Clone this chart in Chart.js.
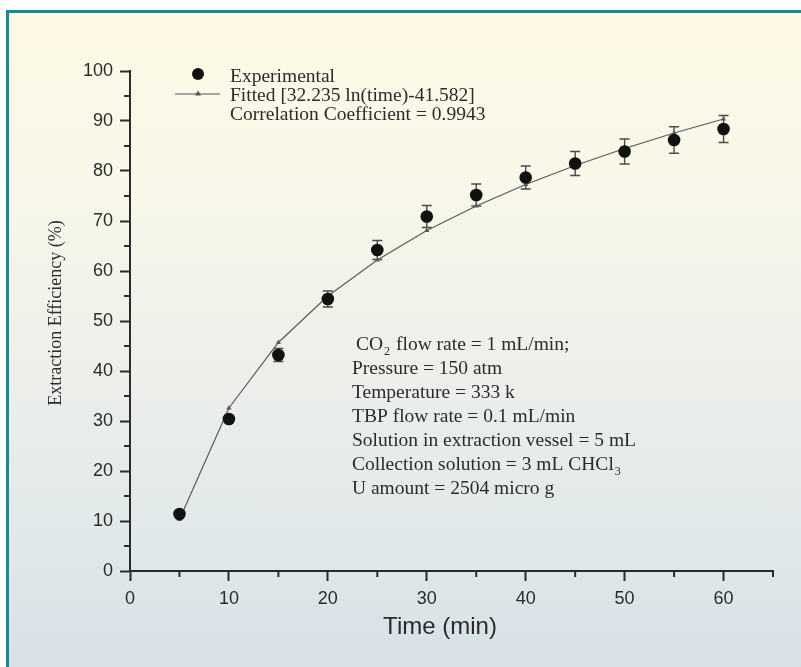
<!DOCTYPE html>
<html>
<head>
<meta charset="utf-8">
<script src="https://cdn.jsdelivr.net/npm/chart.js@4.4.0/dist/chart.umd.min.js"></script>
<style>
  html, body { margin: 0; padding: 0; background: #ffffff; }
  #wrap { position: relative; width: 801px; height: 667px; overflow: hidden; background: #ffffff; }
  #panel { position: absolute; left: 6px; top: 10px; width: 820px; height: 680px;
    border-top: 3px solid #138a9a; border-left: 3px solid #138a9a;
    background: linear-gradient(to bottom, #fdf9e4 0%, #f8f7e9 25%, #eef0ea 50%, #e2e9ea 75%, #d5dfe5 100%); }
  #c { position: absolute; left: 0; top: 0; }
</style>
</head>
<body>
<div id="wrap">
  <div id="panel"></div>
  <canvas id="c" width="801" height="667"></canvas>
</div>
<script>
// ---- data ----
const times = [5, 10, 15, 20, 25, 30, 35, 40, 45, 50, 55, 60];
const experimental = [11.4, 30.4, 43.2, 54.4, 64.2, 70.9, 75.2, 78.7, 81.5, 83.9, 86.2, 88.4];
const experimentalError = [0.5, 0.6, 1.3, 1.6, 1.9, 2.2, 2.2, 2.3, 2.4, 2.5, 2.65, 2.7];
const fitted = [10.3, 32.6, 45.7, 55.0, 62.2, 68.1, 73.0, 77.3, 81.1, 84.5, 87.6, 90.4];
const xTickLabels = ['0', '10', '20', '30', '40', '50', '60'];
const yTickLabels = ['0', '10', '20', '30', '40', '50', '60', '70', '80', '90', '100'];
const legendLabels = ['Experimental', 'Fitted [32.235 ln(time)-41.582]', 'Correlation Coefficient = 0.9943'];
const conditionLines = [
  ['CO', '2', ' flow rate = 1 mL/min;'],
  ['Pressure = 150 atm'],
  ['Temperature = 333 k'],
  ['TBP flow rate = 0.1 mL/min'],
  ['Solution in extraction vessel = 5 mL'],
  ['Collection solution = 3 mL CHCl', '3', ''],
  ['U amount = 2504 micro g']
];
const xTitle = 'Time (min)';
const yTitle = 'Extraction Efficiency (%)';

const SERIF = "'Liberation Serif', 'Times New Roman', serif";
const SANS = "'Liberation Sans', Arial, sans-serif";
const TEXT = '#2b2b2b';

const extras = {
  id: 'extras',
  beforeDatasetsDraw(chart) {
    const ctx = chart.ctx, xs = chart.scales.x, ys = chart.scales.y;
    ctx.save();
    ctx.strokeStyle = '#4a4a4a';
    ctx.lineWidth = 1.4;
    times.forEach((t, i) => {
      const px = xs.getPixelForValue(t);
      const top = ys.getPixelForValue(experimental[i] + experimentalError[i]);
      const bot = ys.getPixelForValue(experimental[i] - experimentalError[i]);
      ctx.beginPath();
      ctx.moveTo(px, top); ctx.lineTo(px, bot);
      ctx.moveTo(px - 5, top); ctx.lineTo(px + 5, top);
      ctx.moveTo(px - 5, bot); ctx.lineTo(px + 5, bot);
      ctx.stroke();
    });
    ctx.restore();
  },
  afterDraw(chart) {
    const ctx = chart.ctx, xs = chart.scales.x, ys = chart.scales.y;
    const area = chart.chartArea;
    ctx.save();
    // minor ticks
    ctx.strokeStyle = '#2b2b2b';
    ctx.lineWidth = 2;
    ctx.beginPath();
    xs.ticks.forEach(tk => {
      if (tk.value % 10 !== 0) {
        const px = xs.getPixelForValue(tk.value);
        ctx.moveTo(px, area.bottom); ctx.lineTo(px, area.bottom + 6);
      }
    });
    ys.ticks.forEach(tk => {
      if (tk.value % 10 !== 0) {
        const py = ys.getPixelForValue(tk.value);
        ctx.moveTo(area.left, py); ctx.lineTo(area.left - 6, py);
      }
    });
    ctx.stroke();

    // axis titles
    ctx.fillStyle = TEXT;
    ctx.font = '24px ' + SANS;
    ctx.textAlign = 'center';
    ctx.textBaseline = 'alphabetic';
    ctx.fillText(xTitle, 440, 634);
    ctx.save();
    ctx.translate(61, 313);
    ctx.rotate(-Math.PI / 2);
    ctx.font = '18px ' + SERIF;
    ctx.fillText(yTitle, 0, 0);
    ctx.restore();

    // legend
    ctx.textAlign = 'left';
    ctx.font = '19.5px ' + SERIF;
    ctx.fillStyle = '#111';
    ctx.beginPath();
    ctx.arc(198, 74, 6, 0, Math.PI * 2);
    ctx.fill();
    ctx.strokeStyle = '#555';
    ctx.lineWidth = 1;
    ctx.beginPath();
    ctx.moveTo(175, 94); ctx.lineTo(220, 94);
    ctx.stroke();
    ctx.fillStyle = '#555';
    ctx.beginPath();
    ctx.moveTo(198, 90.5); ctx.lineTo(201, 95.5); ctx.lineTo(195, 95.5); ctx.closePath();
    ctx.fill();
    ctx.fillStyle = TEXT;
    ctx.fillText(legendLabels[0], 230, 81.5);
    ctx.fillText(legendLabels[1], 230, 101);
    ctx.fillText(legendLabels[2], 230, 119.5);

    // conditions block
    conditionLines.forEach((parts, i) => {
      const base = 350 + i * 24;
      let x = i === 0 ? 356 : 352;
      ctx.font = '19.5px ' + SERIF;
      ctx.fillText(parts[0], x, base);
      x += ctx.measureText(parts[0]).width;
      if (parts.length > 1) {
        ctx.font = '12px ' + SERIF;
        ctx.fillText(parts[1], x + 1, base + 5);
        x += ctx.measureText(parts[1]).width + 2;
        ctx.font = '19.5px ' + SERIF;
        ctx.fillText(parts[2], x, base);
      }
    });
    ctx.restore();
  }
};

new Chart(document.getElementById('c'), {
  type: 'line',
  data: {
    datasets: [
      {
        label: legendLabels[0],
        data: times.map((t, i) => ({ x: t, y: experimental[i] })),
        showLine: false,
        pointRadius: 6.3,
        pointHoverRadius: 6.3,
        pointBackgroundColor: '#111',
        pointBorderColor: '#111',
        pointBorderWidth: 0
      },
      {
        label: legendLabels[1],
        data: times.map((t, i) => ({ x: t, y: fitted[i] })),
        borderColor: '#5a5a5a',
        borderWidth: 1.2,
        tension: 0,
        pointStyle: 'triangle',
        pointRadius: 3,
        pointBackgroundColor: '#5a5a5a',
        pointBorderColor: '#5a5a5a',
        pointBorderWidth: 0,
        fill: false
      }
    ]
  },
  options: {
    responsive: false,
    animation: false,
    events: [],
    layout: { padding: { top: 71, right: 28, left: 0, bottom: 0 } },
    plugins: { legend: { display: false }, tooltip: { enabled: false } },
    scales: {
      x: {
        type: 'linear',
        min: 0, max: 65,
        afterFit(scale) { scale.height = 96; },
        border: { display: true, color: '#2b2b2b', width: 2 },
        grid: {
          display: true, drawOnChartArea: false, drawTicks: true, tickLength: 10, tickWidth: 2,
          tickColor: c => (c.tick && c.tick.value % 10 === 0) ? '#2b2b2b' : 'rgba(0,0,0,0)'
        },
        ticks: {
          stepSize: 5, autoSkip: false, maxRotation: 0, padding: 7,
          color: TEXT, font: { family: SANS, size: 18 },
          callback: v => xTickLabels.includes(String(v)) ? String(v) : ''
        },
        title: { display: false }
      },
      y: {
        min: 0, max: 100,
        afterFit(scale) { scale.width = 130; },
        border: { display: true, color: '#2b2b2b', width: 2 },
        grid: {
          display: true, drawOnChartArea: false, drawTicks: true, tickLength: 10, tickWidth: 2,
          tickColor: c => (c.tick && c.tick.value % 10 === 0) ? '#2b2b2b' : 'rgba(0,0,0,0)'
        },
        ticks: {
          stepSize: 5, autoSkip: false, padding: 7,
          color: TEXT, font: { family: SANS, size: 18 },
          callback: v => yTickLabels.includes(String(v)) ? String(v) : ''
        },
        title: { display: false }
      }
    }
  },
  plugins: [extras]
});
</script>
</body>
</html>
